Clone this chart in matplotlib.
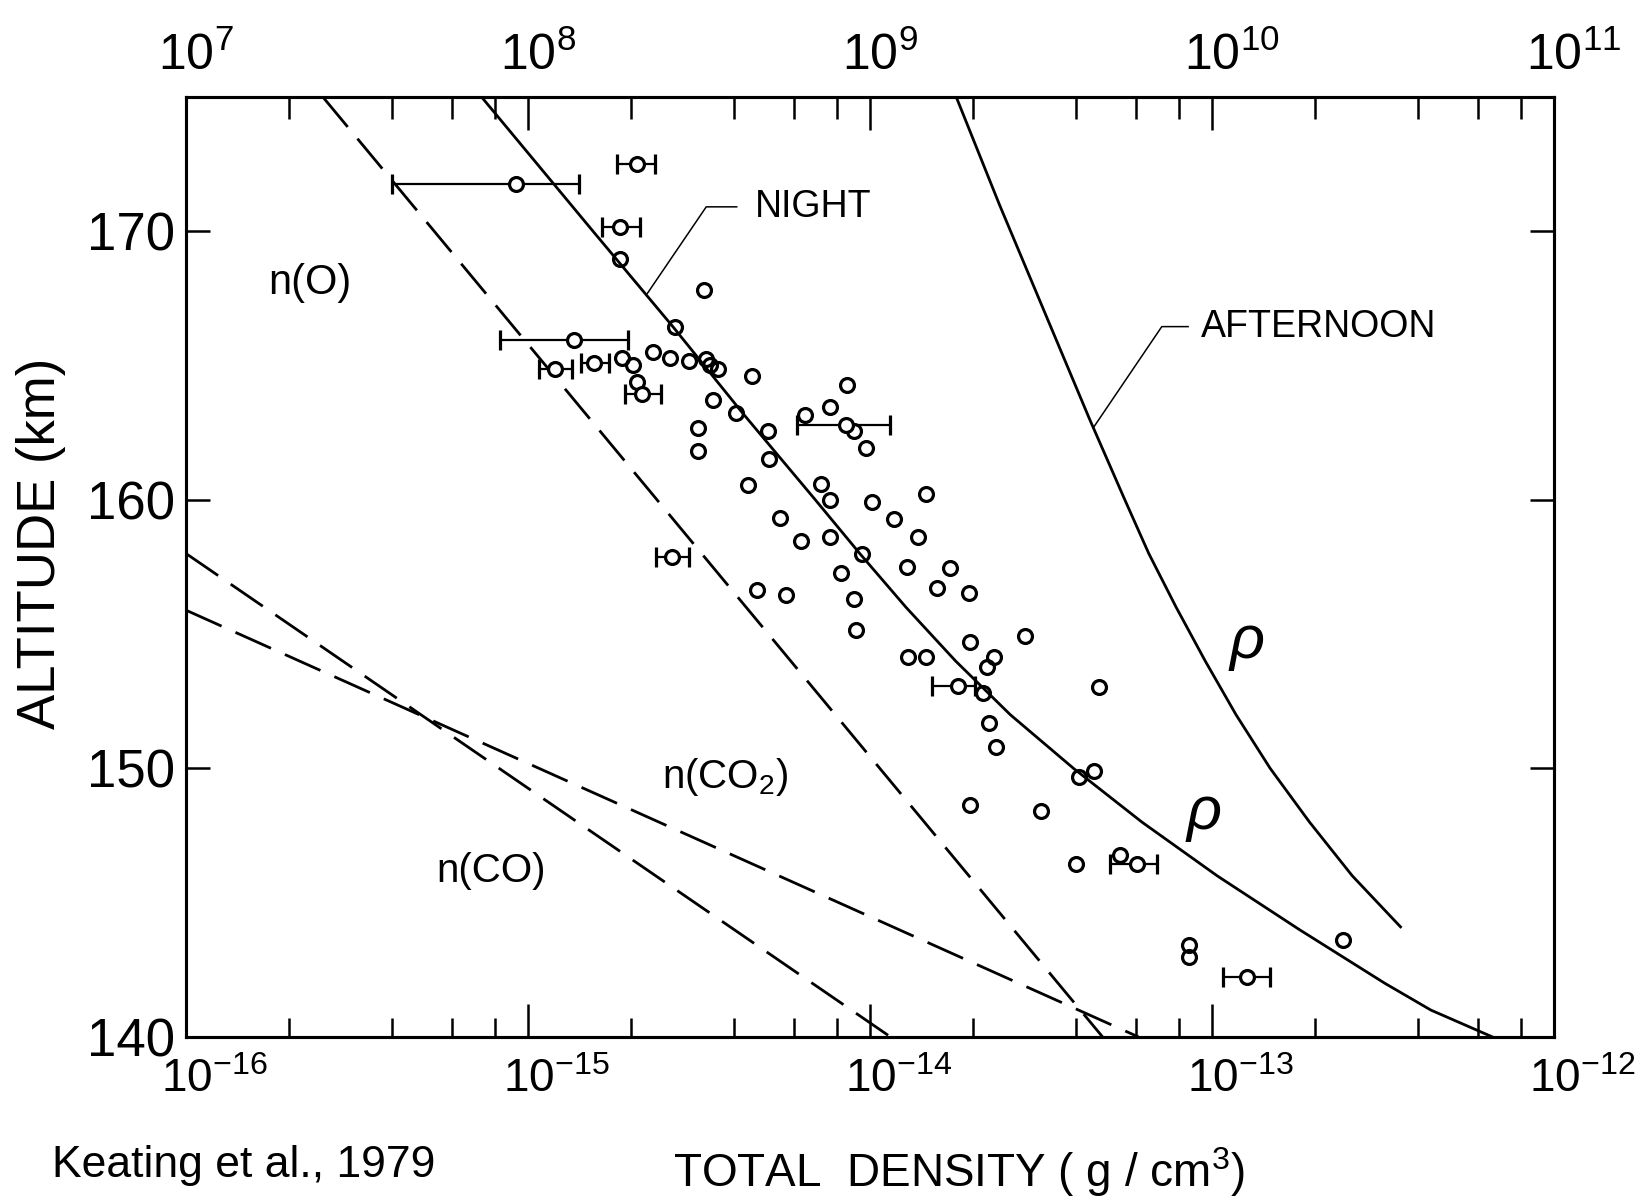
import numpy as np
import matplotlib
matplotlib.use('Agg')
import matplotlib.pyplot as plt
from matplotlib.ticker import FixedLocator, LogLocator, NullFormatter
import matplotlib.transforms as mtransforms

plt.rcParams['font.family'] = ['Liberation Sans', 'DejaVu Sans']
plt.rcParams['mathtext.fontset'] = 'custom'
plt.rcParams['mathtext.rm'] = 'Liberation Sans'
plt.rcParams['mathtext.it'] = 'Liberation Sans:italic'

# --- values (log10 of total density in g/cm^3, altitude km) ---
night_alt = [175.0, 170.0, 166.44, 163.22, 160.0, 158.0, 156.0, 154.0, 152.0,
             150.0, 148.0, 146.0, 144.0, 142.0, 141.0, 140.0]
night_logrho = [-15.136, -14.81, -14.576, -14.372, -14.160, -14.030, -13.895, -13.750,
                -13.590, -13.405, -13.205, -12.985, -12.745, -12.495, -12.36, -12.18]

aftn_alt = [175.0, 171.0, 167.0, 163.0, 160.0, 158.0, 156.0, 154.0, 152.0,
            150.0, 148.0, 146.0, 144.1]
aftn_logrho = [-13.748, -13.622, -13.49, -13.358, -13.255, -13.185, -13.105, -13.02,
               -12.93, -12.83, -12.715, -12.59, -12.449]

# dashed model lines n(O), n(CO2), n(CO)
o_logrho = [-15.60, -13.32]
o_alt = [175.0, 140.0]
co2_logrho = [-16.0, -13.215]
co2_alt = [155.89, 140.0]
co_logrho = [-16.0, -13.94]
co_alt = [158.0, 140.0]

# measured densities without error bars
pts_logrho = [-14.730, -14.487, -14.569, -14.725, -14.692, -14.681, -14.636, -14.584,
              -14.528, -14.479, -14.469, -14.444, -14.345, -14.459, -14.391, -14.502,
              -14.502, -14.297, -14.296, -14.356, -14.144, -14.117, -13.995, -13.836,
              -14.264, -13.931, -13.861, -14.202, -14.117, -14.025, -14.084, -13.892,
              -13.766, -13.805, -13.710, -14.330, -14.247, -14.048, -14.041, -13.709,
              -13.546, -13.888, -13.835, -13.637, -13.657, -13.671, -13.651, -13.632,
              -13.331, -13.390, -13.346, -13.709, -13.500, -13.399, -13.269, -13.067,
              -13.067, -12.618, -14.190, -14.118, -14.066, -14.046, -14.013]
pts_alt = [168.96, 167.81, 166.44, 165.27, 165.02, 164.39, 165.51, 165.30,
           165.18, 165.23, 165.02, 164.86, 164.61, 163.71, 163.22, 162.66,
           161.83, 162.57, 161.51, 160.57, 160.60, 159.98, 159.93, 160.21,
           159.31, 159.28, 158.63, 158.46, 158.63, 158.00, 157.29, 157.50,
           157.47, 156.70, 156.52, 156.64, 156.47, 156.29, 155.15, 154.72,
           154.93, 154.16, 154.15, 154.16, 153.79, 152.81, 151.70, 150.81,
           153.02, 149.67, 149.91, 148.64, 148.42, 146.44, 146.77, 143.42,
           142.99, 143.61, 163.16, 163.44, 164.29, 162.55, 161.93]

# measured densities with error bars (value, low end, high end)
eb_logrho = [-14.681, -15.034, -14.730, -14.867, -14.922, -14.807, -14.666,
             -13.744, -13.220, -12.899, -14.070, -14.579]
eb_lo = [-14.741, -15.397, -14.785, -15.082, -14.969, -14.846, -14.718,
         -13.820, -13.297, -12.967, -14.215, -14.626]
eb_hi = [-14.628, -14.852, -14.673, -14.708, -14.872, -14.764, -14.610,
         -13.693, -13.162, -12.830, -13.941, -14.528]
eb_alt = [172.50, 171.75, 170.17, 165.97, 164.86, 165.10, 163.94,
          153.08, 146.44, 142.24, 162.77, 157.86]

bottom_ticks = [1e-16, 1e-15, 1e-14, 1e-13, 1e-12]
bottom_labels = [r'$\mathregular{10^{-16}}$', r'$\mathregular{10^{-15}}$',
                 r'$\mathregular{10^{-14}}$', r'$\mathregular{10^{-13}}$',
                 r'$\mathregular{10^{-12}}$']
top_ticks = [1e7, 1e8, 1e9, 1e10, 1e11]
top_labels = [r'$\mathregular{10^{7}}$', r'$\mathregular{10^{8}}$',
              r'$\mathregular{10^{9}}$', r'$\mathregular{10^{10}}$',
              r'$\mathregular{10^{11}}$']
alt_ticks = [140, 150, 160, 170]


def lin(v):
    return np.power(10.0, np.asarray(v))


fig = plt.figure(figsize=(16.35, 12.02), dpi=100)
ax = fig.add_axes([0.1138, 0.1373, 0.8367, 0.7820])

ax.plot(lin(night_logrho), night_alt, color='k', lw=2.0)
ax.plot(lin(aftn_logrho), aftn_alt, color='k', lw=2.0)
for xs, ys in [(o_logrho, o_alt), (co2_logrho, co2_alt), (co_logrho, co_alt)]:
    ax.plot(lin(xs), ys, color='k', lw=2.0, dashes=(14, 5.5))

ax.plot(lin(pts_logrho), pts_alt, 'o', ms=10, mfc='none', mec='k', mew=2.3, ls='none')
ebx = lin(eb_logrho)
xerr = [ebx - lin(eb_lo), lin(eb_hi) - ebx]
ax.errorbar(ebx, eb_alt, xerr=xerr, fmt='o', ms=10, mfc='white', mec='k', mew=2.3,
            ecolor='k', elinewidth=1.6, capsize=7, capthick=1.6, zorder=3)

# annotations
ax.text(lin(-15.637), 168.09, 'n(O)', fontsize=30, ha='center', va='center')
ax.text(lin(-14.608), 149.69, r'n(CO$_2$)', fontsize=29, ha='left', va='center')
ax.text(lin(-15.269), 146.19, 'n(CO)', fontsize=29, ha='left', va='center')
ax.text(lin(-14.337), 170.92, 'NIGHT', fontsize=27, ha='left', va='center')
ax.plot(lin([-14.651, -14.479, -14.390]), [167.69, 170.91, 170.91], color='k', lw=1.1)
ax.text(lin(-13.034), 166.45, 'AFTERNOON', fontsize=27, ha='left', va='center')
ax.plot(lin([-13.347, -13.147, -13.070]), [162.69, 166.45, 166.45], color='k', lw=1.1)
ax.text(lin(-12.897), 154.69, 'ρ', fontsize=44, style='italic', ha='center', va='center')
ax.text(lin(-13.023), 148.33, 'ρ', fontsize=44, style='italic', ha='center', va='center')

ax.set_xscale('log')
ax.set_xlim(1e-16, 1e-12)
ax.set_ylim(140, 175)
for sp in ax.spines.values():
    sp.set_linewidth(2.2)

ax.xaxis.set_major_locator(FixedLocator(bottom_ticks))
ax.xaxis.set_minor_locator(LogLocator(base=10, subs=[2, 4, 6, 8]))
ax.xaxis.set_minor_formatter(NullFormatter())
ax.set_xticklabels(bottom_labels)
ax.set_yticks(alt_ticks)
ax.set_yticklabels([str(a) for a in alt_ticks])
ax.tick_params(axis='x', which='major', direction='in', length=24, width=1.8,
               labelsize=33, pad=15)
ax.tick_params(axis='x', which='minor', direction='in', length=14, width=1.8)
ax.tick_params(axis='y', which='major', direction='in', length=17, width=1.8,
               labelsize=38, pad=8, right=True)

ax2 = ax.twiny()
ax2.set_xscale('log')
ax2.set_xlim(1e7, 1e11)
ax2.xaxis.set_major_locator(FixedLocator(top_ticks))
ax2.xaxis.set_minor_locator(LogLocator(base=10, subs=[2, 4, 6, 8]))
ax2.xaxis.set_minor_formatter(NullFormatter())
ax2.set_xticklabels(top_labels)
ax2.tick_params(axis='x', which='major', direction='in', length=24, width=1.8,
                labelsize=36, pad=12)
ax2.tick_params(axis='x', which='minor', direction='in', length=16, width=1.8)
for sp in ax2.spines.values():
    sp.set_linewidth(2.2)

# put the "10" of each label centred on its tick
for axis_, fs in [(ax, 33), (ax2, 36)]:
    shift = mtransforms.ScaledTranslation(-0.556 * fs / 72, 0, fig.dpi_scale_trans)
    for lab in axis_.get_xticklabels():
        lab.set_horizontalalignment('left')
        lab.set_transform(lab.get_transform() + shift)

fig.text(41 / 1635, 1 - 543 / 1202, 'ALTITUDE (km)', rotation=90, fontsize=38,
         ha='center', va='center')
fig.text(959 / 1635, 1 - 1172 / 1202, r'TOTAL  DENSITY ( g / cm$^3$)', fontsize=33,
         ha='center', va='center')
fig.text(52 / 1635, 1 - 1177 / 1202, 'Keating et al., 1979', fontsize=32,
         ha='left', va='baseline')

fig.savefig('out.png', dpi=100)
